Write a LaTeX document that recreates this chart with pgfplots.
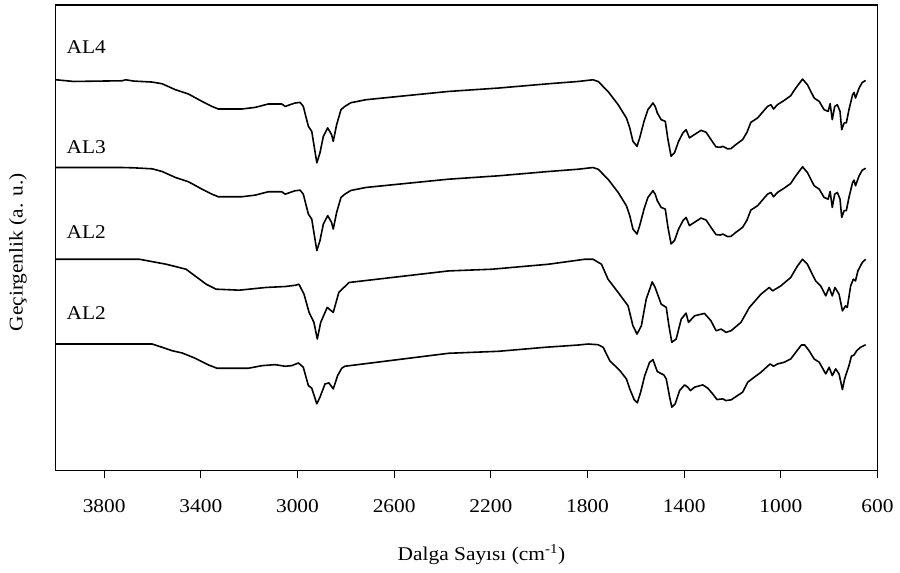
\documentclass[border=0pt]{standalone}
\usepackage{fontspec}
\setmainfont{Liberation Serif}[FakeStretch=1.1]
\usepackage{pgfplots}
\pgfplotsset{compat=1.18}
\newcommand{\cf}{\fontsize{19.5}{22}\selectfont}
\tikzset{sp/.style={black, mark=none, line width=1.6pt, line join=round}}
\begin{document}
\cf
\begin{tikzpicture}
\begin{axis}[name=ax, width=824pt, height=467pt, scale only axis,
  x dir=reverse, xmin=600, xmax=4000, ymin=0, ymax=467,
  xtick={600,1000,...,3800}, ytick=\empty,
  xtick pos=bottom, tick align=outside, major tick length=7pt,
  axis line style={line width=1.1pt}, tick style={line width=1pt, black},
  /pgf/number format/assume math mode=true,
  /pgf/number format/1000 sep={},
  xticklabel style={font=\cf, yshift=-15pt},
  xlabel={Dalga Sayısı (cm\textsuperscript{-1})},
  ylabel={Geçirgenlik (a. u.)},
  xlabel style={font=\cf, at={(axis description cs:0.518,-0.18)}, anchor=center},
  ylabel style={font=\cf, at={(axis description cs:-0.046,0.469)}, anchor=center},
  clip=false]
% AL4
\addplot[sp] coordinates {
(4000,392)(3926,390.3)(3725,391)(3711,392)(3678,390.7)(3601,389.7)(3560,388)(3505,382)(3451,377.7)(3395,370.3)(3354,365.3)(3328,362.7)(3230,362.7)(3175,364.3)(3121,367.7)(3065,367.7)(3051,365.3)(3010,368.7)(2989,369.3)(2976,365.3)(2955,345.3)(2941,340.3)(2920,308.7)(2907,318.7)(2893,335.3)(2875,343.7)(2859,337)(2852,330.3)(2838,347)(2820,362)(2804,365.3)(2779,369)(2717,372)(2375,380.3)(2168,383.7)(1962,388)(1838,390.3)(1777,392)(1756,390.3)(1715,380.3)(1673,367)(1639,353.7)(1625,343.7)(1612,330.3)(1595,325.3)(1584,333.7)(1566,350.3)(1550,362)(1529,368.7)(1520,365.3)(1511,358.7)(1495,352)(1478,350.3)(1467,332)(1454,315.3)(1440,318.7)(1423,330.3)(1405,338.7)(1392,342)(1378,333.7)(1364,336)(1330,341.3)(1309,339.3)(1289,332)(1268,324.7)(1250,324.3)(1240,325.3)(1220,322.7)(1206,323)(1186,327)(1158,332)(1140,339.3)(1124,349.3)(1096,353.7)(1055,365.3)(1041,367)(1030,362.7)(1014,367)(986,371.3)(959,376)(938,383.7)(910,392.7)(890,387)(862,373.7)(841,370.3)(821,362)(804,360.3)(796,368)(787,352)(777,365.3)(766,367)(755,360.3)(748,342)(738,348.7)(729,348.7)(718,362)(703,377)(697,379.3)(691,373.7)(676,383.7)(663,389.3)(649,391.3)
};
% AL3
\addplot[sp] coordinates {
(4000,304)(3926,304)(3725,304)(3678,303.7)(3601,302.7)(3560,300)(3505,294)(3451,289.7)(3395,282.3)(3354,277.3)(3328,274.7)(3230,274.7)(3175,276.3)(3121,279.7)(3065,279.7)(3051,277.3)(3010,280.7)(2989,281.3)(2976,277.3)(2955,257.3)(2941,252.3)(2920,220.7)(2907,230.7)(2893,247.3)(2875,255.7)(2859,249)(2852,242.3)(2838,259)(2820,274)(2804,277.3)(2779,281)(2717,284)(2375,292.3)(2168,295.7)(1962,300)(1838,302.3)(1777,304)(1756,302.3)(1715,292.3)(1673,279)(1639,265.7)(1625,255.7)(1612,242.3)(1595,237.3)(1584,245.7)(1566,262.3)(1550,274)(1529,280.7)(1520,277.3)(1511,270.7)(1495,264)(1478,262.3)(1467,244)(1454,227.3)(1440,230.7)(1423,242.3)(1405,250.7)(1392,254)(1378,245.7)(1364,248)(1330,253.3)(1309,251.3)(1289,244)(1268,236.7)(1250,236.3)(1240,237.3)(1220,234.7)(1206,235)(1186,239)(1158,244)(1140,251.3)(1124,261.3)(1096,265.7)(1055,277.3)(1041,279)(1030,274.7)(1014,279)(986,283.3)(959,288)(938,295.7)(910,304.7)(890,299)(862,285.7)(841,282.3)(821,274)(804,272.3)(796,280)(787,264)(777,277.3)(766,279)(755,272.3)(748,254)(738,260.7)(729,260.7)(718,274)(703,289)(697,291.3)(691,285.7)(676,295.7)(663,301.3)(649,303.3)
};
% AL2 (upper)
\addplot[sp] coordinates {
(4000,212)(3750,212)(3654,212)(3543,207)(3461,202)(3378,187)(3337,182)(3241,181)(3131,183.7)(3048,184.7)(3007,186)(2994,187)(2973,177)(2952,158.7)(2932,148.7)(2918,132)(2904,148.7)(2877,163.7)(2852,158.7)(2829,178.7)(2787,188.7)(2375,200.3)(2196,202)(1962,207)(1811,212)(1777,212)(1742,207)(1715,192)(1673,178.7)(1632,165.3)(1612,145.3)(1595,137)(1577,145.3)(1557,172)(1532,189.3)(1520,183.7)(1495,167)(1474,163.7)(1463,145.3)(1451,128.7)(1433,132)(1412,152)(1392,158)(1382,148.7)(1357,155.3)(1316,157.7)(1289,150.3)(1268,140.3)(1247,142)(1227,138.7)(1206,140.3)(1165,148.7)(1130,163.7)(1082,177)(1048,183.7)(1034,180.3)(1000,185.3)(959,193.7)(931,205.3)(910,212)(890,207)(856,190.3)(835,185.3)(814,175.3)(800,183.7)(787,175.3)(776,183.7)(759,177)(745,160.3)(732,165.3)(725,163.7)(711,185.3)(700,192)(691,190.3)(681,200.3)(663,208.7)(649,212)
};
% AL2 (lower)
\addplot[sp] coordinates {
(4000,127)(3601,127)(3560,123.7)(3519,120.3)(3477,118)(3423,112.7)(3368,106)(3333,102.7)(3203,102.7)(3147,105.3)(3093,106.3)(3051,104.7)(3024,105.3)(2996,108)(2976,103.7)(2955,85.3)(2941,82.7)(2920,67)(2907,73.7)(2886,87)(2870,88)(2852,82)(2834,95.3)(2817,102.7)(2804,104.7)(2375,117.7)(2168,119.7)(1976,123.7)(1838,126)(1797,127)(1756,126.3)(1735,123.7)(1708,110.3)(1666,100.3)(1639,92)(1625,82)(1607,71.3)(1594,68)(1580,78.7)(1563,95.3)(1543,108.7)(1529,111.3)(1520,105.3)(1511,99.3)(1484,96)(1474,92)(1460,73.7)(1451,63.7)(1437,67)(1419,80.3)(1398,86)(1385,83.7)(1374,80.3)(1357,83.7)(1323,86)(1302,82.7)(1282,77)(1264,71.3)(1240,72)(1227,70.3)(1206,71)(1179,75.3)(1158,78.7)(1137,88.7)(1110,93.7)(1082,98.7)(1055,104.7)(1044,107)(1030,104.7)(1014,107)(986,108.7)(959,112)(938,118.7)(915,126)(901,126)(883,120.3)(862,112)(841,108.7)(814,97)(800,103.7)(787,95.3)(773,102)(759,97)(745,81.3)(736,92)(718,105.3)(708,114.7)(697,116)(686,120.3)(670,123.7)(649,126.3)
};
\node[anchor=base west, font=\cf, inner sep=0pt] at (axis cs:3956,418) {AL4};
\node[anchor=base west, font=\cf, inner sep=0pt] at (axis cs:3956,318) {AL3};
\node[anchor=base west, font=\cf, inner sep=0pt] at (axis cs:3956,233) {AL2};
\node[anchor=base west, font=\cf, inner sep=0pt] at (axis cs:3956,152) {AL2};
\end{axis}
\path ([xshift=-56pt,yshift=-102pt]ax.south west) rectangle ([xshift=20pt,yshift=5pt]ax.north east);
\end{tikzpicture}
\end{document}
